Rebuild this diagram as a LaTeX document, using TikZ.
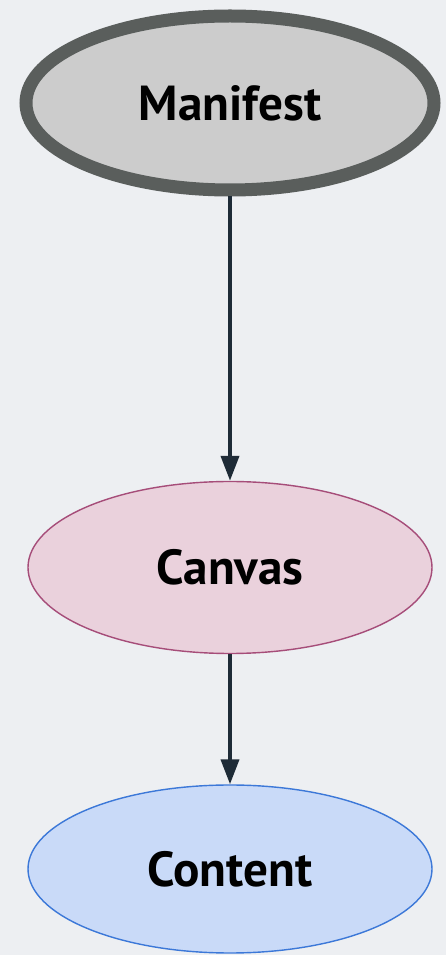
\documentclass[tikz,border=0pt]{standalone}
\usepackage{fontspec}
\setmainfont{PT Sans}
\usepackage{xcolor}
\usetikzlibrary{shapes.geometric,arrows.meta}
\definecolor{PageBg}{HTML}{EDEFF2}
\definecolor{ManFill}{HTML}{CCCCCC}
\definecolor{ManLine}{HTML}{5A5E5C}
\definecolor{CanFill}{HTML}{EAD1DC}
\definecolor{CanLine}{HTML}{A64D79}
\definecolor{ConFill}{HTML}{C9DAF8}
\definecolor{ConLine}{HTML}{3C78D8}
\definecolor{EdgeInk}{HTML}{1E2B37}
\tikzset{
  stage/.style={ellipse,inner sep=0pt,minimum width=8.08cm,minimum height=3.44cm,
    font=\fontsize{28}{32}\selectfont\bfseries},
  flow/.style={EdgeInk,line width=2.2pt,-{Triangle[length=0.5cm,width=0.36cm]}}
}

\begin{document}
\begin{tikzpicture}[x=1cm,y=1cm]
\fill[PageBg] (0,0) rectangle (8.92,19.10);
\path[use as bounding box] (0,0) rectangle (8.92,19.10);
\node[stage,draw=ManLine,fill=ManFill,line width=7.4pt,minimum width=8.16cm,minimum height=3.48cm] (manifest) at (4.60,17.04) {Manifest};
\node[stage,draw=CanLine,fill=CanFill,line width=0.8pt] (canvas) at (4.60,7.75) {Canvas};
\node[stage,draw=ConLine,fill=ConFill,line width=0.8pt,minimum height=3.36cm] (content) at (4.60,1.72) {Content};
\draw[flow] (manifest.south) -- (canvas.north);
\draw[flow] (canvas.south) -- (content.north);
\end{tikzpicture}
\end{document}
